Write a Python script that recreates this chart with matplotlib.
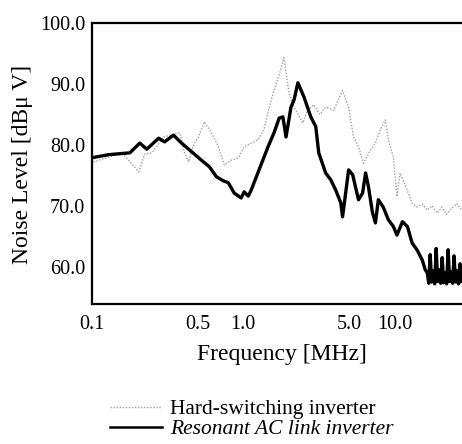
# Conducted noise spectrum - hard-switching vs resonant AC link inverter
#

import numpy as np
import matplotlib
matplotlib.use('Agg')
import matplotlib.pyplot as plt

# data (frequency in MHz, level in dBuV)
f_hard = [0.102, 0.158, 0.204, 0.223, 0.248, 0.298, 0.380, 0.409, 0.435, 0.469,
          0.506, 0.554, 0.616, 0.685, 0.750, 0.834, 0.927, 1.015, 1.13, 1.25,
          1.37, 1.48, 1.60, 1.73, 1.86, 2.01, 2.17, 2.48, 2.64, 2.93,
          3.21, 3.51, 3.97, 4.54, 4.98, 5.37, 5.79, 6.25, 6.95, 7.49,
          8.08, 8.71, 9.13, 9.85, 10.4, 10.9, 11.6, 12.4, 13.1, 14.1,
          15.3, 16.5, 17.8, 19.2, 20.6, 22.1, 24.0, 25.9, 28.0]
db_hard = [77.2, 78.7, 75.6, 78.5, 78.7, 81.3, 82.0, 78.7, 77.2, 80.0,
           81.3, 83.8, 82.0, 79.7, 76.7, 77.5, 77.9, 79.7, 80.3, 80.8,
           82.5, 86.0, 89.0, 91.5, 94.3, 88.5, 86.2, 83.6, 85.5, 86.6,
           85.0, 86.2, 85.7, 88.9, 86.2, 81.3, 79.7, 77.0, 79.2, 80.3,
           82.5, 84.1, 80.8, 78.0, 71.5, 75.4, 73.8, 72.0, 70.5, 69.8,
           70.3, 69.3, 70.0, 68.8, 69.8, 68.6, 69.6, 70.4, 69.2]

f_res = [0.100, 0.129, 0.178, 0.207, 0.230, 0.276, 0.302, 0.346, 0.391, 0.455,
         0.529, 0.598, 0.664, 0.739, 0.797, 0.872, 0.970, 1.015, 1.08, 1.13,
         1.25, 1.46, 1.60, 1.73, 1.83, 1.92, 2.07, 2.17, 2.30, 2.52,
         2.80, 3.02, 3.16, 3.51, 3.79, 4.09, 4.42, 4.54, 4.76, 4.98,
         5.30, 5.53, 5.79, 6.16, 6.45, 6.74, 7.16, 7.49, 7.83, 8.44,
         9.13, 9.85, 10.4, 11.3, 12.2, 13.1, 14.1, 15.3, 16.0, 16.50,
         16.87, 17.25, 17.65, 18.05, 18.47, 18.89, 19.33, 19.78, 20.23, 20.70,
         21.17, 21.66, 22.16, 22.67, 23.19, 23.71, 24.26, 24.81, 25.38, 25.97,
         26.57, 27.18, 27.81]
db_res = [77.9, 78.4, 78.7, 80.3, 79.3, 81.1, 80.5, 81.6, 80.3, 78.9,
          77.5, 76.4, 74.8, 74.1, 73.8, 72.1, 71.3, 72.3, 71.6, 72.6,
          75.4, 79.7, 82.0, 84.4, 84.6, 81.3, 86.2, 87.4, 90.2, 87.9,
          84.6, 83.0, 78.7, 75.4, 74.3, 72.6, 70.5, 68.2, 72.1, 75.9,
          75.1, 73.1, 71.0, 72.1, 75.4, 73.1, 68.9, 67.2, 71.0, 69.8,
          67.7, 66.6, 65.2, 67.4, 66.6, 63.9, 62.8, 61.1, 59.5, 59.0,
          57.3, 62.0, 57.5, 59.3, 57.2, 63.0, 57.6, 59.5, 57.3, 61.5,
          57.4, 59.0, 57.2, 62.8, 57.6, 59.2, 57.3, 61.8, 57.5, 59.4,
          57.2, 60.5, 57.6]

xticks = [0.1, 0.5, 1.0, 5.0, 10.0]
xtick_labels = ['0.1', '0.5', '1.0', '5.0', '10.0']
yticks = [60, 70, 80, 90, 100]

plt.rcParams['font.family'] = ['Liberation Serif', 'DejaVu Serif']

W, H = 462, 444
fig = plt.figure(figsize=(W / 100, H / 100), dpi=100)
ax = fig.add_axes([92 / W, (H - 304) / H, 370 / W, 281 / H])

lh, = ax.plot(f_hard, db_hard, color='#a0a0a0', lw=1.0, ls=(0, (1, 1.2)),
              label='Hard-switching inverter')
lr, = ax.plot(f_res, db_res, color='black', lw=2.4,
              label='Resonant AC link inverter')

ax.set_xscale('log')
ax.set_xlim(0.1, 28)
ax.set_ylim(53.9, 100)
ax.set_xticks(xticks)
ax.set_xticklabels(xtick_labels)
ax.minorticks_off()
ax.set_yticks(yticks)
ax.set_yticklabels(['%.1f' % v for v in yticks])
ax.tick_params(axis='both', length=0, labelsize=14.5)
ax.tick_params(axis='x', pad=8)
ax.tick_params(axis='y', pad=5)

for s in ['left', 'bottom', 'top']:
    ax.spines[s].set_linewidth(1.6)
ax.spines['right'].set_visible(False)

ax.set_xlabel('Frequency [MHz]', fontsize=17, va='center')
ax.xaxis.set_label_coords(0.514, -0.181)
ax.set_ylabel('Noise Level [dBμ V]', fontsize=17, va='center')
ax.yaxis.set_label_coords(-0.189, 0.495)

leg = fig.legend(handles=[lh, lr], loc='upper left',
                 bbox_to_anchor=(110 / W, 1 - 399 / H), frameon=False,
                 fontsize=15.5, handlelength=2.4, handletextpad=0.4,
                 labelspacing=0.0, borderpad=0, borderaxespad=0)
leg.get_texts()[1].set_style('italic')
leg.legend_handles[1].set_linewidth(1.8)

fig.savefig('out.png', dpi=100)
